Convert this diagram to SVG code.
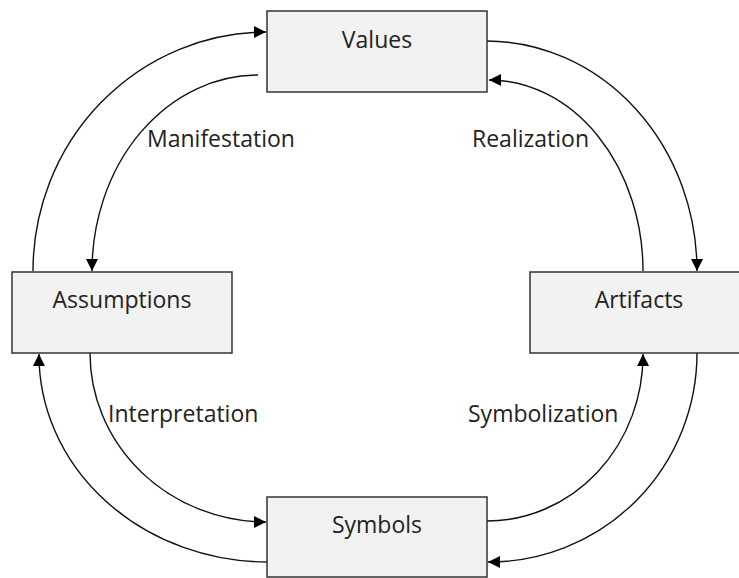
<svg xmlns="http://www.w3.org/2000/svg" width="739" height="578" viewBox="0 0 739 578">
<style>
.box{fill:#f2f2f2;stroke:#333;stroke-width:1.5}
.t{font-family:"Open Sans","Noto Sans",sans-serif;font-size:23px;fill:#222}
.c{text-anchor:middle}
.e{fill:none;stroke:#111;stroke-width:1.4;marker-end:url(#ah)}
</style>
<defs>
<marker id="ah" markerUnits="userSpaceOnUse" markerWidth="13" markerHeight="13" refX="12" refY="6.5" orient="auto" viewBox="0 0 13 13">
<path d="M0,0.5 L12,6.5 L0,12.5 z" fill="#000"/>
</marker>
</defs>
<rect width="739" height="578" fill="#fff"/>
<g id="connectors">
<path class="e" d="M33,271 A234,239 0 0 1 266,32"/>
<path class="e" d="M258,75 A166,196 0 0 0 92,271"/>
<path class="e" d="M487,41 A211,230 0 0 1 697,271"/>
<path class="e" d="M643,271 A154,191 0 0 0 489,80"/>
<path class="e" d="M90,353 A177,169 0 0 0 266,522"/>
<path class="e" d="M268,562 A229,207 0 0 1 39,354"/>
<path class="e" d="M487,521 A156,166 0 0 0 643,354"/>
<path class="e" d="M697,353 A208,209 0 0 1 488,562"/>
</g>
<g id="values"><rect class="box" x="267" y="11" width="220" height="81"/><text class="t c" x="377" y="48">Values</text></g>
<g id="assumptions"><rect class="box" x="12" y="272" width="220" height="81"/><text class="t c" x="122" y="308">Assumptions</text></g>
<g id="artifacts"><rect class="box" x="530" y="272" width="220" height="81"/><text class="t c" x="639" y="308">Artifacts</text></g>
<g id="symbols"><rect class="box" x="267" y="497" width="220" height="80"/><text class="t c" x="377" y="533">Symbols</text></g>
<g id="labels">
<text class="t" x="147" y="147">Manifestation</text>
<text class="t" x="472" y="147">Realization</text>
<text class="t" x="108" y="422">Interpretation</text>
<text class="t" x="468" y="422">Symbolization</text>
</g>
</svg>
